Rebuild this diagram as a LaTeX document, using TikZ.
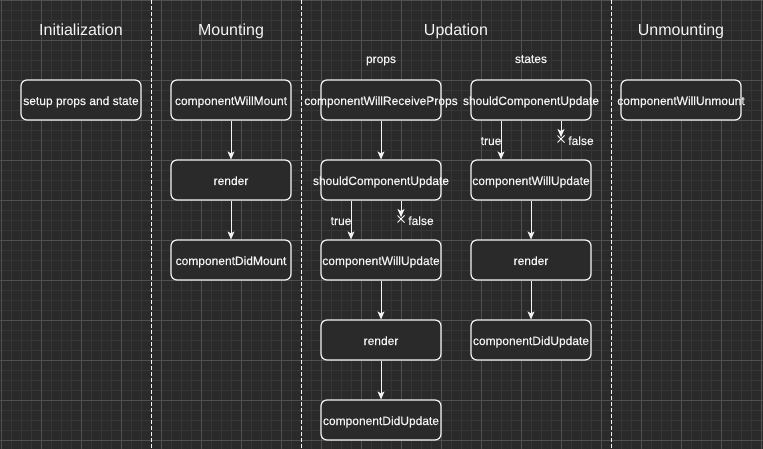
\documentclass[tikz,border=0pt]{standalone}
\usepackage{fontspec}
\setmainfont{Liberation Sans}
\newfontfamily\hookfont{Liberation Sans}[FakeBold=0.3]
\usetikzlibrary{arrows.meta,shapes.misc}

\definecolor{canvas}{HTML}{2A2A2A}
\definecolor{minorline}{HTML}{363636}
\definecolor{majorline}{HTML}{505050}
\definecolor{ink}{HTML}{F4F4F4}

\begin{document}
\begin{tikzpicture}[x=1pt, y=-1pt,
    phase/.style={text=ink, anchor=base, font=\fontsize{16}{19}\selectfont},
    sublabel/.style={text=ink, anchor=base, font=\hookfont\fontsize{12}{14}\selectfont},
    hook/.style={rectangle, rounded corners=6pt, draw=ink, line width=1.2pt, fill=canvas, text=ink,
        minimum width=120pt, minimum height=40pt, inner sep=0pt,
        text height=10pt, text depth=0pt, font=\hookfont\fontsize{12}{14}\selectfont,
        execute at begin node={\hbox to 0pt\bgroup\hss},
        execute at end node={\hss\egroup}},
    flow/.style={draw=ink, line width=1pt, -{Stealth[length=8pt, width=7pt, inset=2pt]}},
    nogo/.style={cross out, draw=ink, line width=1pt, minimum size=6pt, inner sep=0pt},
    divider/.style={draw=ink, line width=1pt, dash pattern=on 4pt off 2pt}
]
    \useasboundingbox (0,0) rectangle (763,449);
    \fill[canvas] (0,0) rectangle (763,449);
    \draw[minorline, line width=0.8pt, step=10pt, xshift=1pt] (-1,0) grid (763,449);
    \draw[majorline, line width=0.8pt, step=40pt, xshift=1pt] (-1,0) grid (763,449);

    % columns
    \draw[divider] (151,0) -- (151,449);
    \draw[divider] (301,0) -- (301,449);
    \draw[divider] (611,0) -- (611,449);

    \node[phase] (init) at (81,36) {Initialization};
    \node[phase] (mount) at (231,36) {Mounting};
    \node[phase] (upd) at (456,36) {Updation};
    \node[phase] (unmount) at (681,36) {Unmounting};
    \node[sublabel] (props) at (381,63) {props};
    \node[sublabel] (states) at (531,63) {states};

    % Initialization
    \node[hook] (setup) at (81,100) {setup props and state};

    % Mounting
    \node[hook] (cwm) at (231,100) {componentWillMount};
    \node[hook] (rndm) at (231,180) {render};
    \node[hook] (cdm) at (231,260) {componentDidMount};
    \draw[flow] (cwm) -- (rndm);
    \draw[flow] (rndm) -- (cdm);

    % Updation, props
    \node[hook] (cwrp) at (381,100) {componentWillReceiveProps};
    \node[hook] (scup) at (381,180) {shouldComponentUpdate};
    \node[hook] (cwup) at (381,260) {componentWillUpdate};
    \node[hook] (rndp) at (381,340) {render};
    \node[hook] (cdup) at (381,420) {componentDidUpdate};
    \coordinate (stopp) at (401,217);
    \draw[flow] (cwrp) -- (scup);
    \draw[flow] ([xshift=-30pt]scup.south) -- ([xshift=-30pt]cwup.north);
    \draw[flow] ([xshift=20pt]scup.south) -- (stopp);
    \node[nogo] (xp) at (401,219) {};
    \node[sublabel] (truep) at (341,225) {true};
    \node[sublabel] (falsep) at (421,225) {false};
    \draw[flow] (cwup) -- (rndp);
    \draw[flow] (rndp) -- (cdup);

    % Updation, states
    \node[hook] (scus) at (531,100) {shouldComponentUpdate};
    \node[hook] (cwus) at (531,180) {componentWillUpdate};
    \node[hook] (rnds) at (531,260) {render};
    \node[hook] (cdus) at (531,340) {componentDidUpdate};
    \coordinate (stops) at (561,137);
    \draw[flow] ([xshift=-30pt]scus.south) -- ([xshift=-30pt]cwus.north);
    \draw[flow] ([xshift=30pt]scus.south) -- (stops);
    \node[nogo] (xs) at (561,139) {};
    \node[sublabel] (trues) at (491,145) {true};
    \node[sublabel] (falses) at (581,145) {false};
    \draw[flow] (cwus) -- (rnds);
    \draw[flow] (rnds) -- (cdus);

    % Unmounting
    \node[hook] (cwum) at (681,100) {componentWillUnmount};
\end{tikzpicture}
\end{document}
